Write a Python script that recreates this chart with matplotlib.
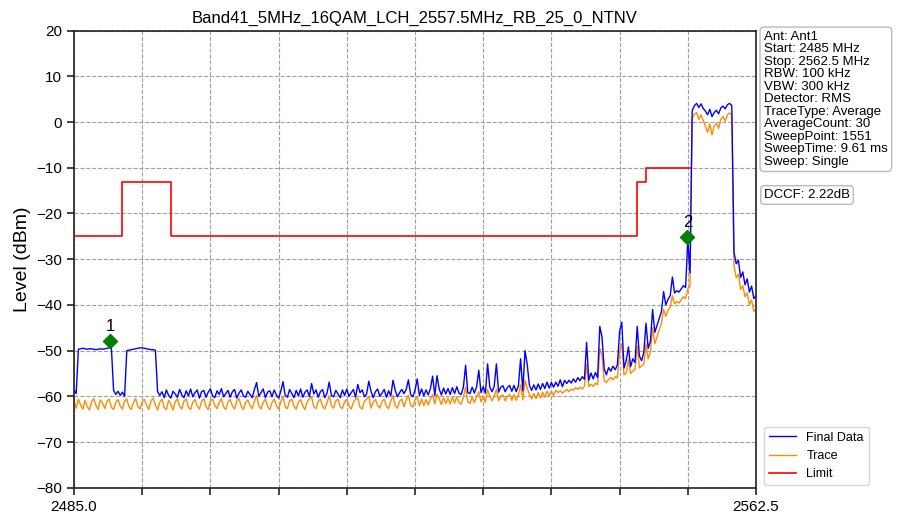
import numpy as np
import matplotlib
matplotlib.use("Agg")
import matplotlib.pyplot as plt

plt.rcParams['font.family'] = ['Liberation Sans', 'DejaVu Sans']

title = "Band41_5MHz_16QAM_LCH_2557.5MHz_RB_25_0_NTNV"
f_start, f_stop = 2485.0, 2562.5
n_points = 311  # sweep grid used for the redrawn traces (0.25 MHz step)

final_data = [
    -58.6, -59.4, -49.7, -49.6, -49.5, -49.6, -49.7, -49.6, -49.6, -49.7,
    -49.8, -49.7, -49.6, -49.7, -49.6, -49.5, -49.4, -49.5, -58.7, -59.6,
    -58.9, -59.8, -59.1, -60.0, -50.0, -49.9, -49.8, -49.7, -49.6, -49.5,
    -49.4, -49.4, -49.5, -49.6, -49.7, -49.8, -49.8, -49.9, -59.0, -59.8,
    -59.0, -60.3, -58.6, -59.8, -60.4, -58.9, -59.5, -60.2, -58.5, -59.7,
    -60.3, -58.8, -59.9, -58.4, -60.1, -59.2, -58.6, -60.4, -59.0, -58.7,
    -60.2, -59.1, -58.4, -59.9, -60.3, -58.8, -59.6, -58.3, -60.1, -59.4,
    -58.7, -60.2, -59.0, -58.5, -60.4, -59.3, -58.6, -59.9, -60.2, -58.9,
    -59.6, -60.3, -58.5, -57.0, -60.0, -59.2, -58.4, -60.3, -59.1, -58.8,
    -60.1, -58.6, -59.7, -60.4, -58.9, -56.8, -59.8, -60.2, -58.5, -59.4,
    -60.3, -58.7, -59.9, -58.4, -60.2, -59.1, -58.6, -60.1, -57.2, -59.5,
    -58.6, -60.2, -59.0, -58.5, -60.3, -59.3, -56.9, -59.8, -60.1, -58.7,
    -59.5, -60.3, -58.6, -59.8, -58.4, -60.0, -59.2, -58.5, -60.2, -57.4,
    -59.2, -58.6, -60.1, -59.5, -56.7, -58.9, -60.3, -59.0, -58.4, -60.0,
    -59.3, -58.5, -60.2, -58.8, -59.9, -56.5, -58.7, -60.1, -59.2, -58.5,
    -59.4, -58.5, -56.4, -59.6, -60.1, -58.7, -56.2, -59.8, -58.4, -59.9,
    -58.6, -59.7, -58.3, -55.6, -59.8, -55.5, -58.4, -59.7, -58.2, -59.5,
    -58.3, -59.6, -58.1, -59.4, -57.9, -59.3, -59.6, -58.0, -53.2, -59.2,
    -59.4, -58.0, -59.3, -57.9, -54.3, -59.2, -57.9, -59.3, -52.9, -58.0,
    -59.0, -57.8, -52.9, -59.1, -58.0, -57.7, -59.0, -58.1, -57.6, -58.9,
    -57.6, -59.0, -57.7, -51.8, -58.8, -50.0, -53.0, -57.6, -58.7, -57.5,
    -58.6, -57.3, -58.5, -57.2, -58.3, -56.9, -58.2, -57.0, -58.0, -56.9,
    -57.8, -56.4, -57.9, -56.5, -57.2, -56.5, -57.1, -56.2, -56.9, -55.9,
    -56.6, -55.7, -56.3, -48.2, -56.5, -54.9, -56.2, -54.8, -55.9, -44.7,
    -47.0, -54.0, -55.3, -53.7, -54.5, -53.4, -54.2, -53.1, -45.8, -43.8,
    -53.8, -52.2, -49.2, -53.5, -51.8, -52.6, -44.7, -51.2, -52.2, -50.4,
    -44.0, -49.5, -48.0, -41.0, -46.0, -44.5, -43.0, -41.5, -37.1, -40.0,
    -38.8, -38.0, -33.9, -37.4, -36.9, -37.2, -36.5, -35.8, -36.2, -25.7,
    -33.0, 2.5, 3.6, 4.1, 3.2, 4.0, 3.0, 2.4, 1.6, 2.8,
    1.2, 2.1, 2.6, 1.8, 3.1, 3.5, 2.9, 3.8, 4.1, 3.6,
    -28.5, -31.0, -30.2, -34.0, -32.8, -35.6, -34.3, -37.2, -35.9, -38.6, -38.0,
]

trace = [
    -61.0, -62.6, -60.6, -61.9, -62.8, -60.9, -62.2, -63.0, -61.2, -60.5,
    -62.0, -62.9, -60.8, -61.5, -62.7, -61.1, -60.6, -62.4, -62.9, -61.3,
    -60.7, -62.1, -62.8, -61.0, -60.6, -62.3, -62.9, -61.4, -60.5, -62.2,
    -62.8, -61.2, -60.7, -62.0, -62.9, -61.0, -60.4, -61.9, -63.0, -61.3,
    -60.6, -62.5, -62.9, -60.9, -61.7, -63.0, -61.2, -60.5, -62.2, -62.8,
    -61.0, -60.6, -62.4, -62.9, -61.3, -60.7, -62.1, -62.8, -61.1, -60.5,
    -62.3, -62.9, -61.0, -60.6, -62.0, -62.7, -61.4, -60.5, -62.3, -62.9,
    -61.2, -60.7, -62.1, -62.8, -61.0, -60.5, -62.2, -62.9, -61.3, -60.8,
    -62.0, -62.7, -61.1, -59.8, -62.1, -62.8, -61.3, -60.6, -62.2, -62.9,
    -61.4, -60.6, -62.0, -62.8, -61.2, -60.0, -62.3, -62.7, -61.0, -60.6,
    -62.2, -62.8, -61.3, -60.7, -62.1, -62.9, -61.2, -60.5, -60.2, -62.3,
    -62.7, -61.1, -60.6, -62.2, -62.8, -61.4, -59.9, -62.0, -62.6, -61.0,
    -60.6, -62.3, -62.7, -61.2, -60.7, -62.1, -62.8, -61.3, -60.6, -60.4,
    -62.4, -62.8, -61.1, -60.6, -60.0, -62.6, -61.2, -60.7, -62.0, -62.6,
    -61.1, -60.6, -62.2, -62.7, -61.0, -59.8, -62.1, -62.6, -61.1, -60.6,
    -62.3, -60.8, -59.8, -61.9, -62.4, -60.7, -60.2, -62.1, -60.6, -62.0,
    -60.7, -61.9, -60.6, -59.6, -61.7, -59.5, -60.5, -61.8, -60.3, -61.6,
    -60.4, -61.7, -60.2, -61.5, -60.1, -61.4, -61.7, -60.2, -58.0, -61.3,
    -61.5, -60.2, -61.4, -60.0, -59.0, -61.2, -60.0, -61.3, -58.5, -60.1,
    -61.0, -59.9, -58.4, -61.0, -60.0, -59.7, -61.0, -60.1, -59.6, -60.9,
    -59.6, -60.9, -59.7, -57.5, -60.8, -56.5, -58.2, -59.6, -60.6, -59.4,
    -60.5, -59.2, -60.4, -59.1, -60.2, -58.9, -60.0, -58.9, -59.8, -58.7,
    -59.2, -58.8, -59.3, -58.9, -58.5, -59.0, -58.4, -58.7, -58.1, -58.5,
    -58.0, -58.4, -57.8, -53.0, -57.9, -57.4, -57.8, -57.1, -57.5, -49.5,
    -51.0, -56.6, -57.0, -56.3, -55.9, -56.4, -55.7, -56.0, -50.0, -48.5,
    -55.3, -54.9, -52.0, -55.0, -54.5, -54.1, -49.0, -53.8, -53.4, -53.0,
    -48.5, -51.8, -50.3, -45.0, -48.5, -47.0, -45.5, -44.0, -41.0, -42.5,
    -41.2, -40.5, -38.0, -39.8, -39.3, -39.6, -38.9, -38.2, -38.6, -36.5,
    -36.0, 0.8, 1.7, 2.1, 0.6, 1.6, 0.4, -0.9, -2.2, -0.4,
    -2.8, -0.8, -0.3, -1.4, 0.6, 1.2, 0.2, 1.6, 2.0, 1.5,
    -31.5, -34.0, -33.3, -36.6, -35.8, -38.2, -37.4, -40.0, -38.9, -41.4, -41.0,
]

limit_freq = [2485.0, 2490.4, 2496.0, 2549.0, 2550.0, 2555.0]
limit_level = [-25, -13, -25, -13, -10, -10]

marker_freq = [2489.1, 2554.7]
marker_level = [-47.8, -25.1]
marker_labels = ["1", "2"]

info_lines = [
    "Ant: Ant1", "Start: 2485 MHz", "Stop: 2562.5 MHz", "RBW: 100 kHz",
    "VBW: 300 kHz", "Detector: RMS", "TraceType: Average",
    "AverageCount: 30", "SweepPoint: 1551", "SweepTime: 9.61 ms",
    "Sweep: Single",
]
dccf_text = "DCCF: 2.22dB"

freq = np.linspace(f_start, f_stop, n_points)

fig = plt.figure(figsize=(8.97, 5.18), dpi=100)
ax = fig.add_axes([74/897, 1-487.7/518, (756-74)/897, (487.7-30.7)/518])

ax.plot(freq, final_data, color='#0000FF', lw=1.0, label='Final Data', zorder=3)
ax.plot(freq, trace, color='#FF8C00', lw=1.0, label='Trace', zorder=2)
ax.plot(limit_freq, limit_level, color='#FF0000', lw=1.2, drawstyle='steps-post',
        label='Limit', zorder=4)

ax.plot(marker_freq, marker_level, linestyle='none', marker='D', markersize=7,
        color='#007F00', zorder=5)
for fx, ly, lab in zip(marker_freq, marker_level, marker_labels):
    ax.annotate(lab, (fx, ly), xytext=(0, 5), textcoords='offset points',
                ha='center', va='bottom', fontsize=12, color='black', zorder=6)

ax.set_xlim(f_start, f_stop)
ax.set_ylim(-80, 20)
xt = np.linspace(f_start, f_stop, 11)
ax.set_xticks(xt)
ax.set_xticklabels([f"{f_start:.1f}"] + [""] * 9 + [f"{f_stop:.1f}"])
ax.set_yticks(np.arange(-80, 21, 10))
ax.tick_params(axis='both', labelsize=11, length=5, width=1.2, color='#222222')
ax.grid(True, linestyle='--', color='#A0A0A0', lw=0.8)
for s in ax.spines.values():
    s.set_color('#222222')
    s.set_linewidth(1.2)
ax.set_ylabel("Level (dBm)", fontsize=14)
ax.set_title(title, fontsize=12, pad=6)

fig.text(764/897, 1-31/518, "\n".join(info_lines), va='top', ha='left',
         fontsize=9.5, linespacing=1.05,
         bbox=dict(boxstyle='round,pad=0.3', fc='white', ec='#BBBBBB'))
fig.text(764/897, 1-189/518, dccf_text, va='top', ha='left', fontsize=9.5,
         bbox=dict(boxstyle='round,pad=0.25', fc='white', ec='#BBBBBB'))

ax.legend(loc='lower left', bbox_to_anchor=(1.008, 0.0), borderaxespad=0.2,
          fontsize=9, frameon=True, edgecolor='#CCCCCC', handlelength=2.2)

fig.savefig("out.png", dpi=100)
